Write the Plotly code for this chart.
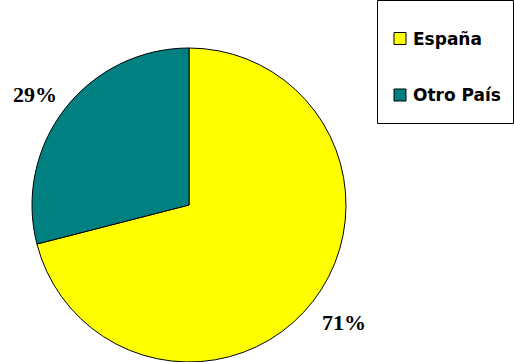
import plotly.graph_objects as go

# Country of origin share
labels = ["España", "Otro País"]
values = [71, 29]
colors = ["#FFFF00", "#008080"]

W, H = 514, 362

fig = go.Figure(go.Pie(
    labels=labels,
    values=values,
    sort=False,
    direction="clockwise",
    rotation=0,
    marker=dict(colors=colors, line=dict(color="black", width=1)),
    textinfo="none",
    hoverinfo="label+percent",
    showlegend=False,
    domain=dict(x=[32 / W, 346 / W], y=[0 / H, 314 / H]),
))

total = sum(values)
pct_font = dict(family="Liberation Serif, Times New Roman, serif", size=22, color="black")
# percentage labels placed outside each slice
label_pos = [(344, 322), (35, 94)]
for v, (px, py) in zip(values, label_pos):
    fig.add_annotation(
        x=px / W, y=1 - py / H, xref="paper", yref="paper",
        text="<b>%d%%</b>" % round(100 * v / total),
        showarrow=False, font=pct_font, xanchor="center", yanchor="middle",
    )

# legend box
shapes = [dict(type="rect", xref="paper", yref="paper",
               x0=377.5 / W, x1=513.5 / W, y0=1 - 123.5 / H, y1=1 - 0.5 / H,
               line=dict(color="black", width=1), fillcolor="white")]
row_y = [38.5, 95]
for lab, col, ry in zip(labels, colors, row_y):
    shapes.append(dict(type="rect", xref="paper", yref="paper",
                       x0=394 / W, x1=406 / W,
                       y0=1 - (ry + 6) / H, y1=1 - (ry - 6) / H,
                       line=dict(color="black", width=1), fillcolor=col))
    fig.add_annotation(
        x=411 / W, y=1 - ry / H, xref="paper", yref="paper",
        text="<b>%s</b>" % lab, showarrow=False,
        font=dict(family="DejaVu Sans, Arial, sans-serif", size=17, color="black"),
        xanchor="left", yanchor="middle",
    )

fig.update_layout(
    width=W, height=H,
    margin=dict(l=0, r=0, t=0, b=0),
    paper_bgcolor="white", plot_bgcolor="white",
    shapes=shapes,
)

fig.write_html("out.html")
